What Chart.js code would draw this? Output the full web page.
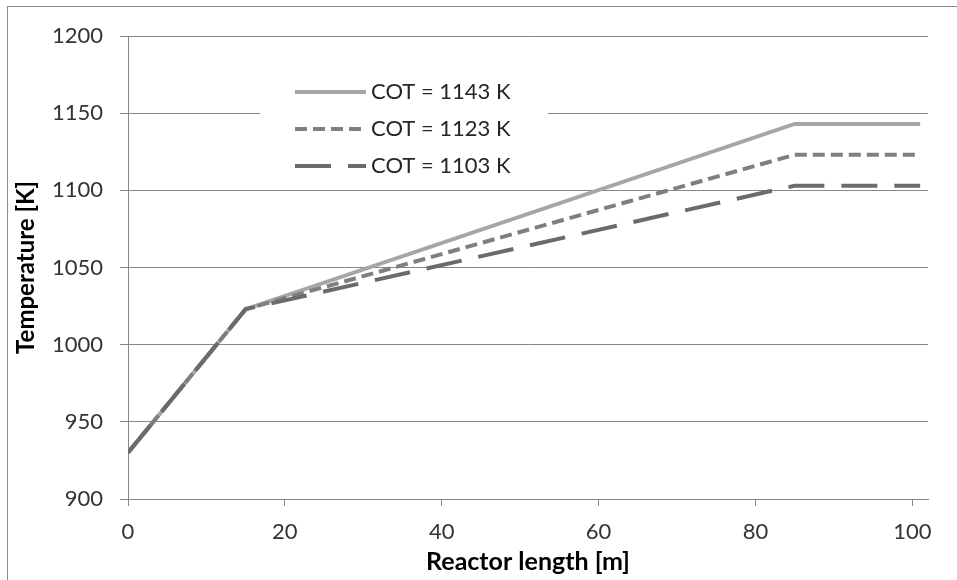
<!DOCTYPE html>
<html>
<head>
<meta charset="utf-8">
<script src="https://cdn.jsdelivr.net/npm/chart.js@4.4.1/dist/chart.umd.min.js"></script>
<style>
  html, body { margin: 0; padding: 0; background: #fff; }
  #wrap { position: relative; width: 957px; height: 580px; }
  #frame { position: absolute; left: 7px; top: 6px; right: 0; bottom: 0;
           border-top: 1px solid #8c8c8c; border-left: 1px solid #8c8c8c; pointer-events: none; }
</style>
</head>
<body>
<div id="wrap">
  <canvas id="chart" width="957" height="580"></canvas>
  <div id="frame"></div>
</div>
<script>
// reactor length positions [m]
var lengths = [0, 15, 85, 101];
// temperature profiles [K]
var cot1143 = [930, 1023, 1143, 1143];
var cot1123 = [930, 1023, 1123, 1123];
var cot1103 = [930, 1023, 1103, 1103];
var seriesLabels = ['COT = 1143 K', 'COT = 1123 K', 'COT = 1103 K'];
var yTicks = [900, 950, 1000, 1050, 1100, 1150, 1200];
var xTicks = [0, 20, 40, 60, 80, 100];

function points(ys) {
    return lengths.map(function (x, i) { return { x: x, y: ys[i] }; });
}

var font = 'Lato, "Liberation Sans", sans-serif';

// legend drawn inside the plot, on a white box that hides the gridlines
var boxLegend = {
    id: 'boxLegend',
    beforeDatasetsDraw: function (chart) {
        var c = chart.ctx;
        c.save();
        c.fillStyle = '#ffffff';
        c.fillRect(260, 72, 288, 112);
        chart.data.datasets.forEach(function (ds, i) {
            var y = 92 + i * 37;
            c.strokeStyle = ds.borderColor;
            c.lineWidth = ds.borderWidth;
            c.setLineDash(ds.borderDash || []);
            c.beginPath();
            c.moveTo(295, y);
            c.lineTo(366, y);
            c.stroke();
            c.setLineDash([]);
            c.fillStyle = '#262626';
            c.font = '22px ' + font;
            c.textBaseline = 'middle';
            c.textAlign = 'left';
            c.fillText(ds.label, 371, y);
        });
        c.restore();
    }
};

var ctx = document.getElementById('chart').getContext('2d');
var chart = new Chart(ctx, {
    type: 'line',
    data: {
        datasets: [{
            label: seriesLabels[0],
            data: points(cot1143),
            borderColor: '#a6a6a6',
            borderWidth: 4,
            pointRadius: 0,
            tension: 0,
            order: 2
        }, {
            label: seriesLabels[1],
            data: points(cot1123),
            borderColor: '#7f7f7f',
            borderWidth: 4,
            borderDash: [12, 6],
            pointRadius: 0,
            tension: 0,
            order: 1
        }, {
            label: seriesLabels[2],
            data: points(cot1103),
            borderColor: '#6b6b6b',
            borderWidth: 4,
            borderDash: [36, 17],
            pointRadius: 0,
            tension: 0,
            order: 0
        }]
    },
    options: {
        responsive: false,
        animation: false,
        layout: { padding: { left: 8, right: 29, top: 36, bottom: 0 } },
        plugins: {
            legend: { display: false },
            tooltip: { enabled: false }
        },
        scales: {
            x: {
                type: 'linear',
                min: 0,
                max: 102,
                afterFit: function (s) { s.height = 81; },
                afterBuildTicks: function (s) {
                    s.ticks = xTicks.map(function (v) { return { value: v }; });
                },
                ticks: {
                    font: { family: font, size: 22 },
                    color: '#333333',
                    padding: 13,
                    maxRotation: 0,
                    callback: function (v) { return String(v); }
                },
                grid: {
                    drawOnChartArea: false,
                    drawTicks: true,
                    tickLength: 7,
                    color: '#878787'
                },
                border: { color: '#878787' },
                title: {
                    display: true,
                    text: 'Reactor length [m]',
                    font: { family: font, size: 25, weight: 'bold' },
                    color: '#000000',
                    padding: { top: 0, bottom: 3 }
                }
            },
            y: {
                min: 900,
                max: 1200,
                afterFit: function (s) { s.width = 120; },
                afterBuildTicks: function (s) {
                    s.ticks = yTicks.map(function (v) { return { value: v }; });
                },
                ticks: {
                    font: { family: font, size: 22 },
                    color: '#333333',
                    padding: 17,
                    callback: function (v) { return String(v); }
                },
                grid: {
                    color: '#878787',
                    tickLength: 8
                },
                border: { color: '#878787' },
                title: {
                    display: true,
                    text: 'Temperature [K]',
                    font: { family: font, size: 24, weight: 'bold' },
                    color: '#000000',
                    padding: { top: 4, bottom: 0 }
                }
            }
        }
    },
    plugins: [boxLegend]
});
</script>
</body>
</html>
